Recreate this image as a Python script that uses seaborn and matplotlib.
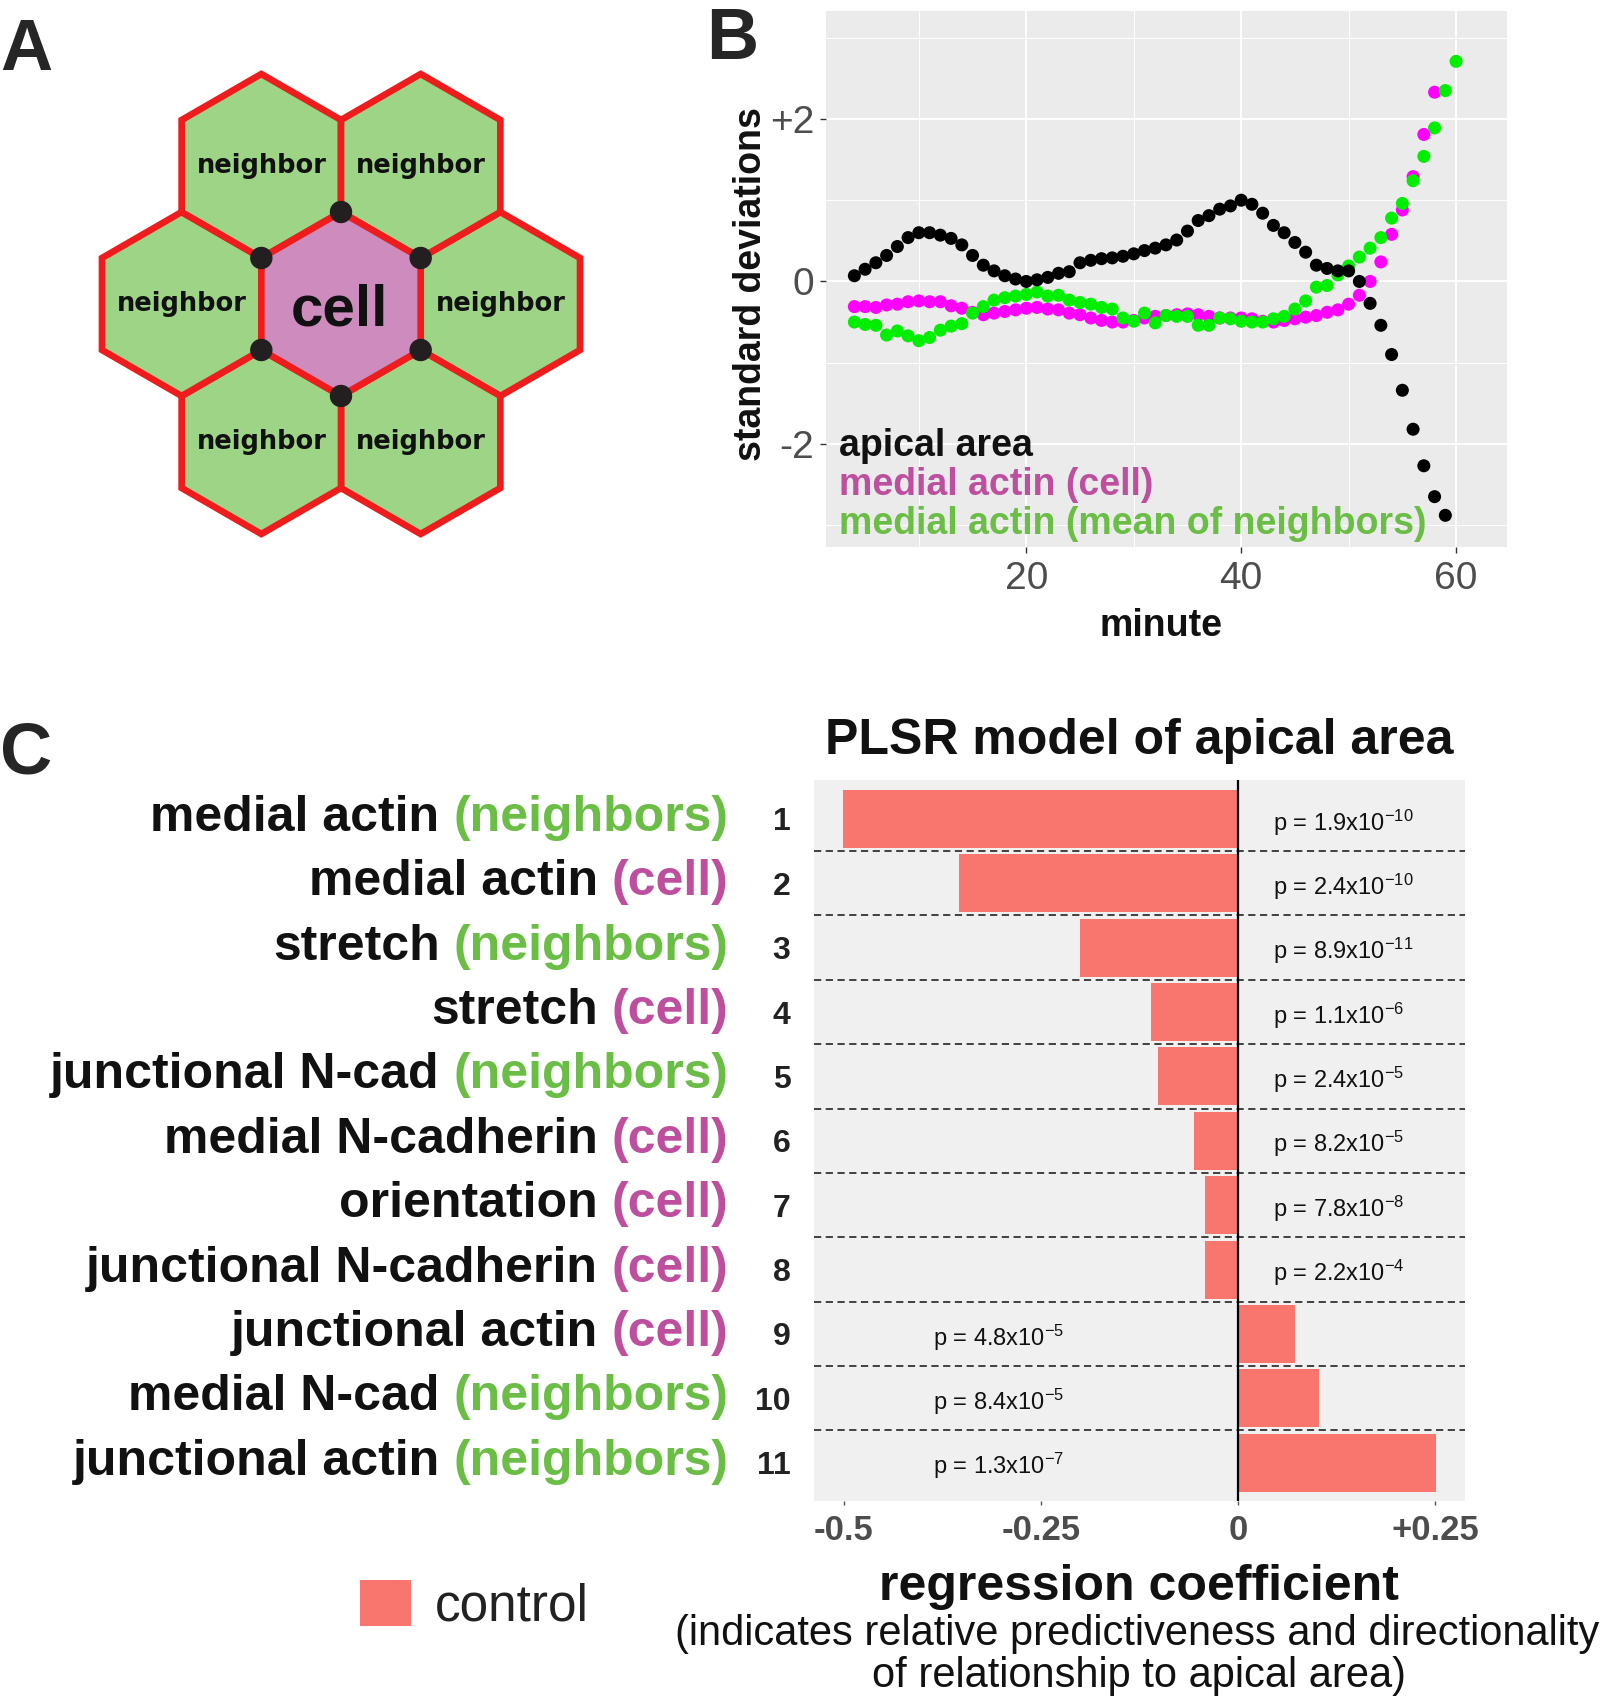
import numpy as np
import pandas as pd
import matplotlib
matplotlib.use("Agg")
import matplotlib.pyplot as plt
import seaborn as sns
from matplotlib.patches import RegularPolygon, Circle, Patch

sns.set_theme(style="white")
plt.rcParams["font.family"] = ["Liberation Sans", "DejaVu Sans"]
plt.rcParams["mathtext.fontset"] = "custom"
plt.rcParams["mathtext.rm"] = "Liberation Sans"
plt.rcParams["mathtext.it"] = "Liberation Sans:italic"
plt.rcParams["mathtext.bf"] = "Liberation Sans:bold"

# ---- panel B data (standard deviations per minute) ----
min_area = list(range(4, 60))
apical_area = [0.07, 0.15, 0.23, 0.32, 0.43, 0.54, 0.60, 0.60, 0.57, 0.53, 0.45, 0.32,
               0.20, 0.13, 0.07, 0.03, 0.00, 0.02, 0.05, 0.10, 0.12, 0.23, 0.26, 0.28,
               0.29, 0.31, 0.34, 0.38, 0.41, 0.45, 0.51, 0.62, 0.75, 0.81, 0.89, 0.93,
               1.00, 0.95, 0.84, 0.69, 0.60, 0.48, 0.36, 0.20, 0.16, 0.13, 0.13, 0.00,
               -0.27, -0.54, -0.90, -1.34, -1.82, -2.27, -2.65, -2.88]
min_cell = list(range(4, 59))
actin_cell = [-0.31, -0.31, -0.32, -0.29, -0.28, -0.25, -0.24, -0.25, -0.25, -0.30, -0.33,
              -0.38, -0.41, -0.39, -0.37, -0.35, -0.33, -0.32, -0.34, -0.35, -0.39, -0.41,
              -0.45, -0.48, -0.50, -0.50, -0.48, -0.45, -0.43, -0.42, -0.41, -0.40, -0.41,
              -0.43, -0.45, -0.45, -0.45, -0.46, -0.49, -0.50, -0.48, -0.46, -0.44, -0.42,
              -0.38, -0.35, -0.28, -0.17, 0.00, 0.24, 0.58, 0.88, 1.29, 1.81, 2.33]
min_nbr = list(range(4, 61))
actin_nbr = [-0.50, -0.53, -0.54, -0.66, -0.61, -0.67, -0.73, -0.69, -0.60, -0.55, -0.52,
             -0.39, -0.31, -0.23, -0.20, -0.18, -0.16, -0.13, -0.18, -0.17, -0.23, -0.26,
             -0.28, -0.32, -0.34, -0.45, -0.49, -0.39, -0.51, -0.42, -0.43, -0.43, -0.54,
             -0.54, -0.45, -0.46, -0.49, -0.50, -0.50, -0.46, -0.43, -0.34, -0.24, -0.07,
             -0.05, 0.08, 0.19, 0.30, 0.41, 0.54, 0.78, 0.96, 1.24, 1.54, 1.89, 2.35, 2.71]

# ---- panel C data (PLSR regression coefficients) ----
row_ids = [str(i) for i in range(1, 12)]
row_vars = ["medial actin", "medial actin", "stretch", "stretch", "junctional N-cad",
            "medial N-cadherin", "orientation", "junctional N-cadherin", "junctional actin",
            "medial N-cad", "junctional actin"]
row_groups = ["neighbors", "cell", "neighbors", "cell", "neighbors", "cell", "cell",
              "cell", "cell", "neighbors", "neighbors"]
coefs = [-0.501, -0.354, -0.200, -0.110, -0.101, -0.055, -0.042, -0.042, 0.072, 0.103, 0.251]
p_mant = ["1.9", "2.4", "8.9", "1.1", "2.4", "8.2", "7.8", "2.2", "4.8", "8.4", "1.3"]
p_exp = [-10, -10, -11, -6, -5, -5, -8, -4, -5, -5, -7]

RED_LINE = "#EE1C1C"
HEX_GREEN = "#9DD486"
HEX_CELL = "#CE8BBE"
TXT_GREEN = "#6ABD45"
TXT_MAGENTA = "#BE4E9E"
BAR_RED = "#F8766D"

fig = plt.figure(figsize=(16.02, 16.97), dpi=100)
W, H = 1602, 1697

# ---- panel letters ----
fig.text(0.0, 1 - 70 / H, "A", fontsize=52, fontweight="bold", va="baseline")
fig.text(706 / W, 1 - 59 / H, "B", fontsize=52, fontweight="bold", va="baseline")
fig.text(0.0, 1 - 774 / H, "C", fontsize=52, fontweight="bold", va="baseline")

# ---- panel A: hexagon diagram ----
axA = fig.add_axes([0, 1 - 600 / H, 640 / W, 600 / H])
axA.set_xlim(0, 640)
axA.set_ylim(600, 0)
axA.axis("off")
r = 92
cx, cy = 341, 304
step = r * np.sqrt(3)
for k in range(6):
    ang = np.deg2rad(60 * k)
    nx, ny = cx + step * np.cos(ang), cy + step * np.sin(ang)
    axA.add_patch(RegularPolygon((nx, ny), 6, radius=r, orientation=0,
                                 facecolor=HEX_GREEN, edgecolor=RED_LINE, lw=4.8,
                                 joinstyle="miter"))
    axA.text(nx, ny, "neighbor", ha="center", va="center", fontsize=18.5,
             fontweight="bold", family="DejaVu Sans", color="#111111")
axA.add_patch(RegularPolygon((cx, cy), 6, radius=r, orientation=0,
                             facecolor=HEX_CELL, edgecolor=RED_LINE, lw=4.8,
                             joinstyle="miter", zorder=3))
axA.text(cx - 2, cy + 6, "cell", ha="center", va="center", fontsize=42,
         fontweight="bold", color="#111111", zorder=4)
for k in range(6):
    ang = np.deg2rad(90 + 60 * k)
    axA.add_patch(Circle((cx + r * np.cos(ang), cy + r * np.sin(ang)), 10.5,
                         color="#231F20", zorder=5))

# ---- panel B: time series ----
df_b = pd.concat([
    pd.DataFrame({"minute": min_cell, "sd": actin_cell, "series": "cell"}),
    pd.DataFrame({"minute": min_nbr, "sd": actin_nbr, "series": "neighbors"}),
    pd.DataFrame({"minute": min_area, "sd": apical_area, "series": "area"}),
], ignore_index=True)

axB = fig.add_axes([826 / W, 1 - 547 / H, 681 / W, 536 / H])
sns.scatterplot(data=df_b, x="minute", y="sd", hue="series",
                palette={"cell": "#FF00FF", "neighbors": "#00EE00", "area": "#000000"},
                s=88, linewidth=0, legend=False, ax=axB, zorder=3)
axB.set_facecolor("#EBEBEB")
axB.set_xlim(1.36, 64.74)
axB.set_ylim(-3.27, 3.33)
axB.set_xticks([20, 40, 60])
axB.set_xticks([10, 30, 50], minor=True)
axB.set_yticks([-2, 0, 2])
axB.set_yticklabels(["-2", "0", "+2"])
axB.set_yticks([-3, -1, 1, 3], minor=True)
axB.grid(which="major", color="white", lw=1.3)
axB.grid(which="minor", color="white", lw=0.7)
axB.set_axisbelow(True)
for s in axB.spines.values():
    s.set_visible(False)
axB.tick_params(which="major", bottom=True, left=True, direction="out", length=4,
                width=1, color="#333333", labelsize=28, labelcolor="#4D4D4D")
axB.tick_params(axis="x", which="major", pad=5.8)
axB.tick_params(axis="y", which="major", pad=4.6)
axB.tick_params(which="minor", length=0)
axB.set_xlabel("minute", fontsize=27, fontweight="bold", color="#111111")
axB.set_ylabel("standard deviations", fontsize=27, fontweight="bold", color="#111111")
axB.xaxis.label.set_va("baseline")
axB.yaxis.label.set_va("baseline")
axB.xaxis.set_label_coords(0.4925, -0.166)
axB.yaxis.set_label_coords(-0.0955, 0.491)

legend_b = [("apical area", "#111111", 0.170),
            ("medial actin (cell)", TXT_MAGENTA, 0.0976),
            ("medial actin (mean of neighbors)", TXT_GREEN, 0.025)]
for label, col, yy in legend_b:
    axB.text(0.019, yy, label, transform=axB.transAxes, fontsize=27,
             fontweight="bold", color=col, va="baseline", ha="left", zorder=5)

# ---- panel C: PLSR coefficients ----
df_c = pd.DataFrame({"row": row_ids, "coef": coefs})
axC = fig.add_axes([814 / W, 1 - 1501.3 / H, 650.5 / W, 721 / H])
sns.barplot(data=df_c, x="coef", y="row", orient="h", color=BAR_RED, saturation=1,
            width=0.9, linewidth=0, ax=axC)
axC.set_facecolor("#F0F0F0")
axC.set_xlim(-0.5375, 0.2875)
axC.set_ylim(10.6, -0.6)
for s in axC.spines.values():
    s.set_visible(False)
for yb in np.arange(0.5, 10.5, 1.0):
    axC.axhline(yb, color="#333333", lw=1.3, ls=(0, (4, 2.5)), zorder=1)
axC.axvline(0, color="black", lw=1.6, zorder=4)
axC.set_xticks([-0.5, -0.25, 0, 0.25])
axC.set_xticklabels(["-0.5", "-0.25", "0", "+0.25"])
axC.tick_params(axis="x", bottom=True, length=3, width=1, color="#555555",
                labelsize=25, labelcolor="#4D4D4D", pad=6)
axC.tick_params(axis="y", left=False, length=0, labelsize=23, labelcolor="#222222", pad=17)
for lab in axC.get_xticklabels() + axC.get_yticklabels():
    lab.set_fontweight("bold")
axC.set_ylabel("")
axC.set_xlabel("regression coefficient", fontsize=36, fontweight="bold", color="#111111")
axC.xaxis.label.set_va("baseline")
axC.xaxis.set_label_coords(0.499, -0.137)
axC.set_title("PLSR model of apical area", fontsize=36, fontweight="bold",
              color="#111111", pad=18.7)

for i, (c, m, e) in enumerate(zip(coefs, p_mant, p_exp)):
    xpos = 0.044 if c < 0 else -0.387
    axC.text(xpos, i + 0.18, f"p = {m}x10$^{{\\mathregular{{{e}}}}}$", ha="left",
             va="baseline", fontsize=17, color="#111111", zorder=5)

# colored row labels left of the axis
ytrans = axC.get_yaxis_transform()
renderer = fig.canvas.get_renderer()
space = 13.9 / 650.5
for i, (v, g) in enumerate(zip(row_vars, row_groups)):
    col = TXT_GREEN if g == "neighbors" else TXT_MAGENTA
    t = axC.text(-0.1314, i + 0.186, f"({g})", transform=ytrans, ha="right",
                 va="baseline", fontsize=36, fontweight="bold", color=col)
    bb = t.get_window_extent(renderer)
    x_left = axC.transAxes.inverted().transform((bb.x0, bb.y0))[0]
    axC.text(x_left - space, i + 0.186, v, transform=ytrans, ha="right",
             va="baseline", fontsize=36, fontweight="bold", color="#111111")

fig.text(1137 / W, 1 - 1645 / H, "(indicates relative predictiveness and directionality",
         ha="center", va="baseline", fontsize=30, color="#111111")
fig.text(1139 / W, 1 - 1687.5 / H, "of relationship to apical area)",
         ha="center", va="baseline", fontsize=30, color="#111111")

fig.legend(handles=[Patch(facecolor=BAR_RED, edgecolor="none", label="control")],
           loc="center left", bbox_to_anchor=(360 / W, 1 - 1605.7 / H), frameon=False,
           fontsize=37, handlelength=1.0, handleheight=1.0, handletextpad=0.45,
           borderpad=0, borderaxespad=0, labelcolor="#222222")

fig.savefig("out.png", dpi=100)
